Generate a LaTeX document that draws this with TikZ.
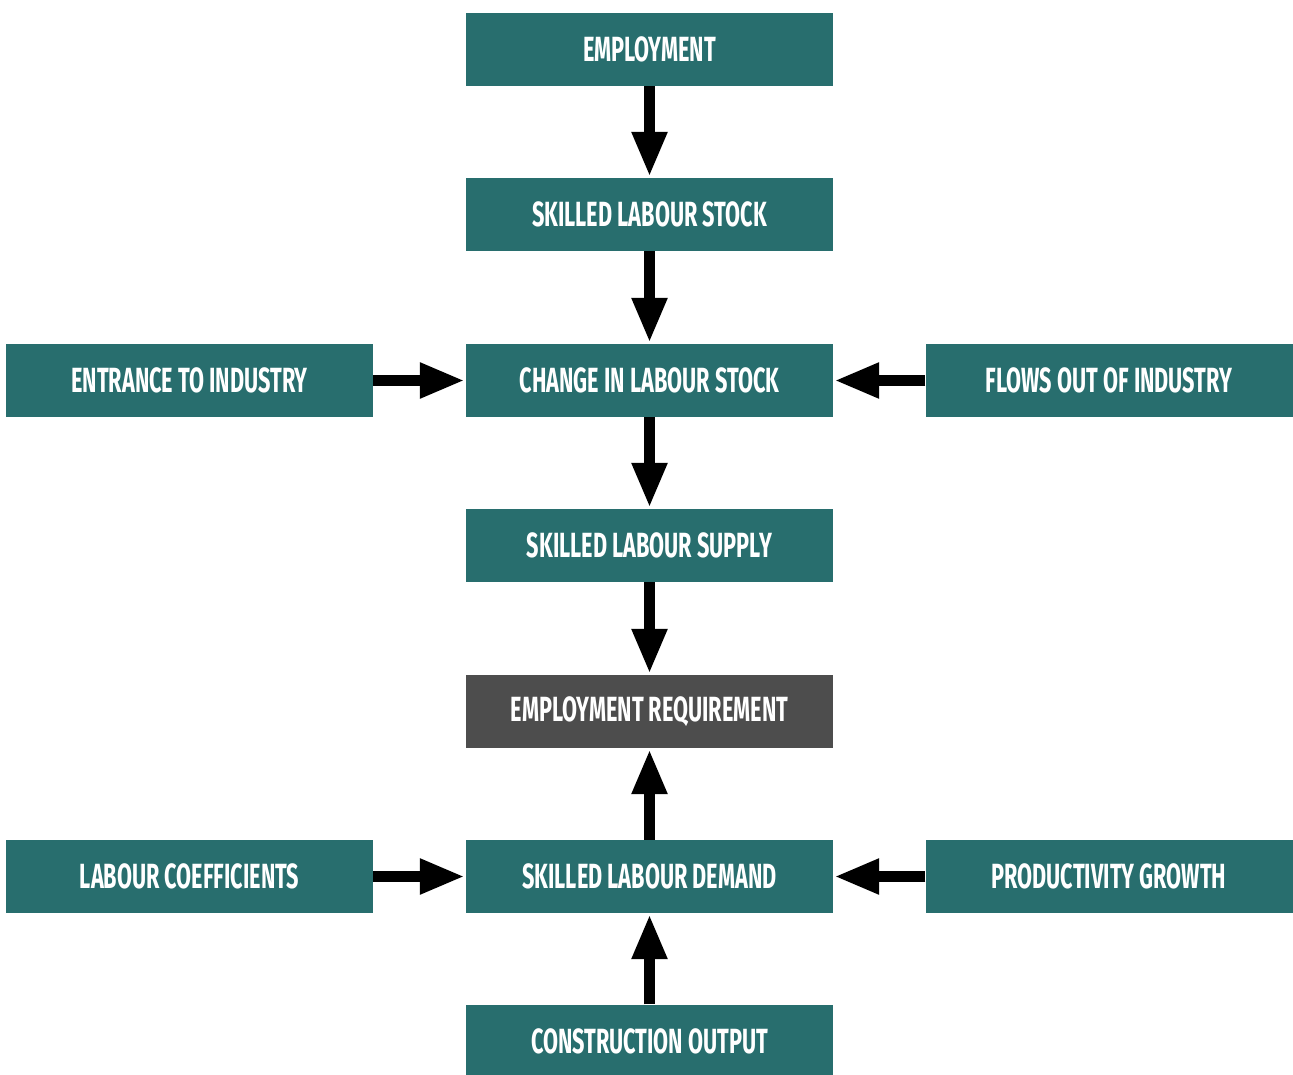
\documentclass[tikz,border=0pt]{standalone}
\usepackage{fontspec}
\setmainfont[FakeStretch=0.62]{Fira Sans}
\usetikzlibrary{arrows.meta}
\definecolor{teal1}{HTML}{286E6E}
\definecolor{gray1}{HTML}{4D4D4D}
\begin{document}
\begin{tikzpicture}[x=1pt,y=-1pt,
  box/.style={fill=teal1,text=white,minimum width=367pt,minimum height=73pt,inner sep=0pt,
    font=\fontsize{35}{40}\selectfont\bfseries},
  grbox/.style={box,fill=gray1},
  arr/.style={line width=11pt,-{Triangle[length=45pt,width=33pt]},shorten >=1pt}]
\useasboundingbox (0,0) rectangle (1293,1075);
\node[box] (emp) at (649.5,49.5) {EMPLOYMENT};
\node[box] (stock) at (649.5,214.5) {SKILLED LABOUR STOCK};
\node[box] (change) at (649.5,380.5) {CHANGE IN LABOUR STOCK};
\node[box] (entr) at (189.5,380.5) {ENTRANCE TO INDUSTRY};
\node[box] (flows) at (1109,380.5) {FLOWS OUT OF INDUSTRY};
\node[box] (supply) at (649.5,545.5) {SKILLED LABOUR SUPPLY};
\node[grbox] (req) at (649.5,711.5) {EMPLOYMENT REQUIREMENT};
\node[box] (demand) at (649.5,876.5) {SKILLED LABOUR DEMAND};
\node[box] (coef) at (189.5,876.5) {LABOUR COEFFICIENTS};
\node[box] (prod) at (1109,876.5) {PRODUCTIVITY GROWTH};
\node[box] (out) at (649.5,1041) {CONSTRUCTION OUTPUT};
\draw[arr] (emp) -- (stock);
\draw[arr] (stock) -- (change);
\draw[arr] (change) -- (supply);
\draw[arr] (supply) -- (req);
\draw[arr] (demand) -- (req);
\draw[arr] (out) -- (demand);
\draw[arr] (entr) -- (change);
\draw[arr] (flows) -- (change);
\draw[arr] (coef) -- (demand);
\draw[arr] (prod) -- (demand);
\end{tikzpicture}
\end{document}
